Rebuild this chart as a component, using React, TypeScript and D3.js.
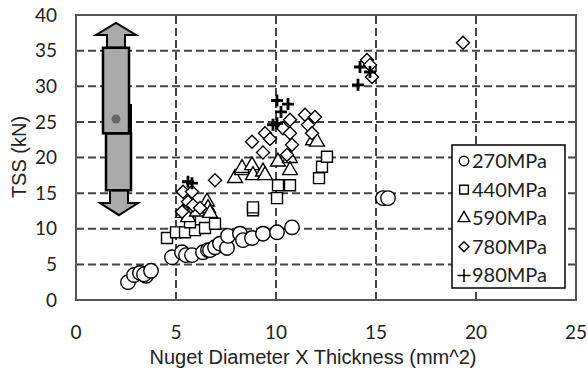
import React from 'react';
import * as d3 from 'd3';

const width = 588;
const height = 374;
const margin = {top: 15, right: 12, bottom: 74, left: 76};

// TSS vs nugget diameter x thickness, one array per steel grade
const mpa270 = [
  [2.6, 2.5], [2.9, 3.5], [3.2, 3.8], [3.5, 3.4], [3.4, 3.6], [3.75, 4.1],
  [4.8, 6.0], [5.3, 6.7], [5.5, 6.3], [5.8, 6.3], [6.35, 6.7], [6.6, 7.0],
  [6.7, 7.0], [6.95, 7.4], [7.2, 7.9], [7.55, 7.3], [7.6, 9.0], [8.2, 9.3],
  [8.35, 8.4], [8.8, 8.7], [9.35, 9.3], [10.05, 9.5], [10.8, 10.2],
  [15.35, 14.3], [15.6, 14.3],
];
const mpa440 = [
  [4.55, 8.7], [5.0, 9.5], [5.45, 9.5], [5.95, 9.8], [6.45, 10.1], [6.95, 10.7],
  [5.7, 10.9], [8.85, 12.6], [8.85, 13.0], [10.05, 14.3], [10.1, 16.1],
  [10.7, 16.1], [12.15, 17.1], [12.3, 18.7], [12.55, 20.1],
];
const mpa590 = [
  [5.35, 12.2], [5.6, 11.6], [6.05, 12.4], [6.55, 13.8], [6.6, 12.9], [6.7, 12.2],
  [7.95, 17.1], [8.3, 18.2], [8.3, 18.5], [8.8, 18.9], [8.85, 17.5], [9.35, 18.0],
  [9.45, 17.5], [10.1, 19.4], [10.7, 19.9], [10.7, 18.2], [11.85, 22.4], [12.05, 22.2],
];
const mpa780 = [
  [5.3, 12.4], [5.6, 13.8], [5.85, 13.3], [6.2, 12.9], [5.35, 15.2], [5.8, 15.2],
  [6.95, 16.8], [8.8, 22.2], [9.35, 20.7], [9.45, 23.4], [9.7, 22.6], [10.35, 24.1],
  [10.55, 20.4], [10.7, 25.3], [10.7, 23.4], [10.8, 21.8], [11.45, 26.0],
  [11.95, 25.7], [11.6, 24.6], [11.8, 23.4], [14.55, 33.7], [14.7, 33.0],
  [14.8, 31.3], [19.35, 36.1],
];
const mpa980 = [
  [5.6, 16.6], [5.8, 16.4], [10.05, 28.0], [10.6, 27.5], [10.25, 26.4],
  [10.05, 24.8], [9.85, 24.6], [14.2, 32.7], [14.7, 32.0], [14.1, 30.2],
];

const seriesNames = ['270MPa', '440MPa', '590MPa', '780MPa', '980MPa'];
const seriesData = [mpa270, mpa440, mpa590, mpa780, mpa980];
const seriesSymbols = [d3.symbolCircle, d3.symbolSquare, d3.symbolTriangle, d3.symbolDiamond2, d3.symbolCross];

const xTicks = [0, 5, 10, 15, 20, 25];
const yTicks = [0, 5, 10, 15, 20, 25, 30, 35, 40];

// range glyph (mean with spread) drawn at the left
const rangeX = [1.35, 2.65];
const rangeLowX = [1.5, 2.75];
const rangeY = [15.4, 23.4, 35.4];
const rangeMean = [2.0, 25.4];
const arrowUp = [38.9, 37.2];
const arrowDown = [13.6, 11.9];

const xScale = d3.scaleLinear().domain([0, 25]).range([margin.left, width - margin.right]);
const yScale = d3.scaleLinear().domain([0, 40]).range([height - margin.bottom, margin.top]);

const symbolSize = [165, 120, 95, 105, 90];

function Marker({i, x, y, size}: {i: number; x: number; y: number; size?: number}) {
  if (i === 4) {
    const h = size ? 6.5 : 6;
    return (
      <path d={`M${x - h},${y}H${x + h}M${x},${y - h}V${y + h}`} stroke='#000' strokeWidth={size ? 1.5 : 2.8} />
    );
  }
  if (i === 3) {
    const h = size ? 5 : 6.5;
    return (
      <path d={`M${x},${y - h}L${x + h},${y}L${x},${y + h}L${x - h},${y}Z`} fill='#fff' stroke='#000' strokeWidth={1.4} />
    );
  }
  const p = d3.symbol().type(seriesSymbols[i]).size(size ?? symbolSize[i])();
  return <path d={p || ''} transform={`translate(${x},${y})`} fill='#fff' stroke='#000' strokeWidth={1.4} />;
}

export default function App() {
  const x0 = xScale(0), x1 = xScale(25), y0 = yScale(0), y1 = yScale(40);
  const up = {
    tip: yScale(arrowUp[0]), base: yScale(arrowUp[1]),
    cx: xScale(rangeMean[0]),
  };
  const boxTop = yScale(rangeY[2]);
  const boxMid = yScale(rangeY[1]);
  const boxBot = yScale(rangeY[0]);
  const down = {tip: yScale(arrowDown[1]), base: yScale(arrowDown[0])};
  const cxDown = xScale(2.15);

  return (
    <svg width={width} height={height} style={{position: 'absolute', left: 0, top: 0, background: '#fff'}}>
      <rect width={width} height={height} fill='#fff' />
      {/* grid */}
      {yTicks.filter(t => t > 0 && t < 40).map(t => (
        <line key={'gy' + t} x1={x0} x2={x1} y1={yScale(t)} y2={yScale(t)} stroke='#444' strokeWidth={2} strokeDasharray='8,4' />
      ))}
      {xTicks.filter(t => t > 0 && t < 25).map(t => (
        <line key={'gx' + t} x1={xScale(t)} x2={xScale(t)} y1={y0} y2={y1} stroke='#444' strokeWidth={2} strokeDasharray='8,4' />
      ))}
      <rect x={x0} y={y1} width={x1 - x0} height={y0 - y1} fill='none' stroke='#555' strokeWidth={2} />

      {/* range glyph */}
      <path d={`M${up.cx},${up.tip}L${xScale(3.0)},${up.base}L${xScale(2.45)},${up.base}L${xScale(2.45)},${boxTop}L${xScale(1.55)},${boxTop}L${xScale(1.55)},${up.base}L${xScale(1.0)},${up.base}Z`}
        fill='#aaa' stroke='#000' strokeWidth={2} />
      <path d={`M${cxDown},${down.tip}L${xScale(3.1)},${down.base}L${xScale(2.6)},${down.base}L${xScale(2.6)},${boxBot}L${xScale(1.7)},${boxBot}L${xScale(1.7)},${down.base}L${xScale(1.2)},${down.base}Z`}
        fill='#aaa' stroke='#000' strokeWidth={2} />
      <rect x={xScale(rangeLowX[0])} y={boxMid} width={xScale(rangeLowX[1]) - xScale(rangeLowX[0])} height={boxBot - boxMid}
        fill='#aaa' stroke='#000' strokeWidth={2.5} />
      <rect x={xScale(rangeX[1])} y={yScale(27.5)} width={3} height={boxMid - yScale(27.5)} fill='#000' />
      <rect x={xScale(rangeX[0])} y={boxTop} width={xScale(rangeX[1]) - xScale(rangeX[0])} height={boxMid - boxTop}
        fill='#aaa' stroke='#000' strokeWidth={2.5} />
      <circle cx={xScale(rangeMean[0])} cy={yScale(rangeMean[1])} r={4.5} fill='#666' />

      {/* points */}
      {seriesData.map((data, i) => (
        <g key={seriesNames[i]}>
          {data.map((d, j) => <Marker key={j} i={i} x={xScale(d[0])} y={yScale(d[1])} />)}
        </g>
      ))}

      {/* axes labels */}
      {yTicks.map(t => (
        <text key={'ty' + t} x={57} y={yScale(t)} dy='0.35em' textAnchor='end'
          fontFamily='Lato, "Open Sans", sans-serif' fontSize={19} fill='#222'>{t}</text>
      ))}
      {xTicks.map(t => (
        <text key={'tx' + t} x={xScale(t)} y={332} dy='0.35em' textAnchor='middle'
          fontFamily='Lato, "Open Sans", sans-serif' fontSize={19} fill='#222'>{t}</text>
      ))}
      <text x={313} y={357} dy='0.35em' textAnchor='middle' fontFamily='"Liberation Sans", Arial, sans-serif'
        fontSize={20} fill='#222'>Nuget Diameter X Thickness (mm^2)</text>
      <text transform={`translate(19,157) rotate(-90)`} dy='0.35em' textAnchor='middle'
        fontFamily='"Liberation Sans", Arial, sans-serif' fontSize={20} fill='#222'>TSS (kN)</text>

      {/* legend */}
      <g>
        <rect x={452} y={145} width={113} height={143} fill='#fff' stroke='#000' strokeWidth={1.5} />
        {seriesNames.map((n, i) => (
          <g key={n} transform={`translate(0, ${161 + i * 28.6})`}>
            <Marker i={i} x={464} y={0} size={[70, 75, 60, 60, 60][i]} />
            <text x={472} y={0} dy='0.35em' fontFamily='Lato, "Open Sans", sans-serif' fontSize={20} fill='#222'>{n}</text>
          </g>
        ))}
      </g>
    </svg>
  );
}
